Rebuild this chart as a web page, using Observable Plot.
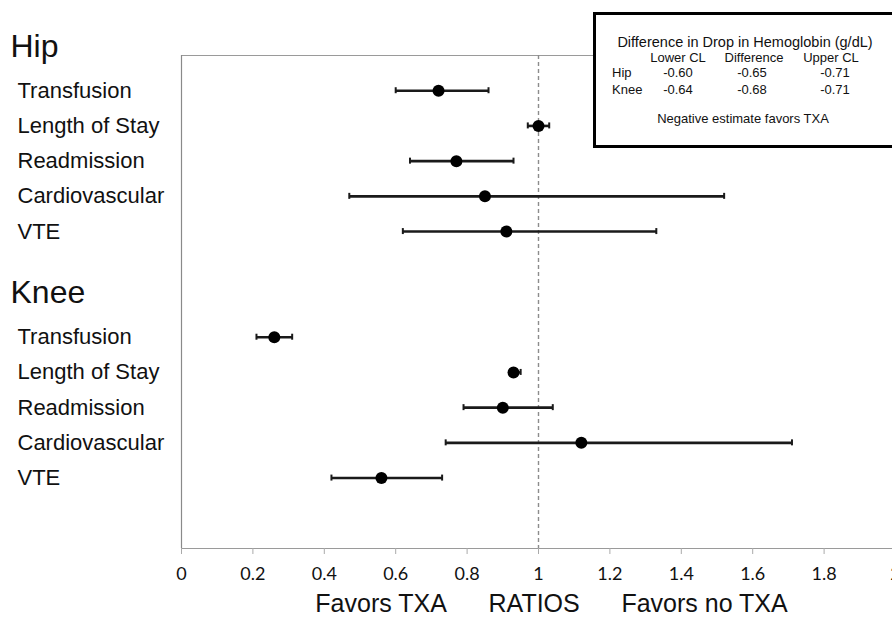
<!DOCTYPE html>
<html>
<head>
<meta charset="utf-8">
<script src="https://cdn.jsdelivr.net/npm/d3@7"></script>
<script src="https://cdn.jsdelivr.net/npm/@observablehq/plot@0.6"></script>
<style>
  html, body { margin: 0; padding: 0; background: #fff; overflow: hidden; }
  #wrap { position: relative; width: 892px; height: 617px; overflow: hidden; background: #fff; }
  #wrap svg { max-width: none !important; }
  #inset { position: absolute; left: 593px; top: 12px; width: 304px; height: 136px; box-sizing: border-box;
           border: 3px solid #000; background: #fff; font-family: "Liberation Sans", Arial, sans-serif; color: #111; }
  .it { position: absolute; white-space: nowrap; transform: translate(-50%, -50%); line-height: 1; }
  .il { position: absolute; white-space: nowrap; transform: translate(0, -50%); line-height: 1; }
</style>
</head>
<body>
<div id="wrap"></div>
<script>
// ---- data ----
const groups = ["Hip", "Knee"];
const outcomes = ["Transfusion", "Length of Stay", "Readmission", "Cardiovascular", "VTE"];
const hipEstimate = [0.72, 1.00, 0.77, 0.85, 0.91];
const hipLower    = [0.60, 0.97, 0.64, 0.47, 0.62];
const hipUpper    = [0.86, 1.03, 0.93, 1.52, 1.33];
const kneeEstimate = [0.26, 0.93, 0.90, 1.12, 0.56];
const kneeLower    = [0.21, 0.92, 0.79, 0.74, 0.42];
const kneeUpper    = [0.31, 0.95, 1.04, 1.71, 0.73];
const xTicks = [0, 0.2, 0.4, 0.6, 0.8, 1, 1.2, 1.4, 1.6, 1.8, 2];
const axisTitle = ["Favors TXA", "RATIOS", "Favors no TXA"];
const refLine = [1];

const insetTitle = "Difference in Drop in Hemoglobin (g/dL)";
const insetColumns = ["Lower CL", "Difference", "Upper CL"];
const insetRows = ["Hip", "Knee"];
const insetLower = [-0.60, -0.64];
const insetDiff  = [-0.65, -0.68];
const insetUpper = [-0.71, -0.71];
const insetNote = "Negative estimate favors TXA";

// ---- build table ----
const rowOf = (g, i) => g * 7 + i + 1;
const rows = [];
[[hipEstimate, hipLower, hipUpper], [kneeEstimate, kneeLower, kneeUpper]].forEach(([est, lo, hi], g) => {
  outcomes.forEach((name, i) => rows.push({group: groups[g], name, est: est[i], lo: lo[i], hi: hi[i], row: rowOf(g, i)}));
});
const headers = groups.map((name, g) => ({name, row: rowOf(g, 0) - 1.25}));

const sans = "Liberation Sans, Arial, Helvetica, sans-serif";
const sp = "\u00a0".repeat(6);

const chart = Plot.plot({
  width: 920,
  height: 617,
  marginLeft: 181,
  marginRight: 25,
  marginTop: 55,
  marginBottom: 69,
  x: {domain: [0, 2], axis: null},
  y: {domain: [0, 14], reverse: true, axis: null},
  style: {background: "transparent", overflow: "visible", maxWidth: "none"},
  marks: [
    Plot.ruleY([0, 14], {stroke: "#9a9a9a", strokeWidth: 1.2}),
    Plot.ruleX([0], {stroke: "#8a8a8a", strokeWidth: 1.2}),
    Plot.ruleX(refLine, {stroke: "#8c8c8c", strokeWidth: 1.4, strokeDasharray: "4,3"}),
    Plot.axisX({ticks: xTicks, tickFormat: d => String(+d.toFixed(1)), tickSize: 6, tickPadding: 13,
      stroke: "#aaa", fill: "#111", fontSize: 18, fontFamily: "Lato, Open Sans, sans-serif", label: null}),
    Plot.text([axisTitle.join(sp)], {frameAnchor: "bottom", dy: 63, dx: 13, fontSize: 25, fontFamily: sans, fill: "#111"}),
    Plot.link(rows, {x1: "lo", x2: "hi", y1: "row", y2: "row", stroke: "#1a1a1a", strokeWidth: 2.6}),
    Plot.ruleX(rows, {x: "lo", y1: "row", y2: "row", insetTop: -3, insetBottom: -3, stroke: "#1a1a1a", strokeWidth: 2}),
    Plot.ruleX(rows, {x: "hi", y1: "row", y2: "row", insetTop: -3, insetBottom: -3, stroke: "#1a1a1a", strokeWidth: 2}),
    Plot.dot(rows, {x: "est", y: "row", r: 6, fill: "#000", stroke: "none"}),
    Plot.text(rows, {y: "row", text: "name", frameAnchor: "left", dx: -164, textAnchor: "start", fontSize: 22, fontFamily: sans, fill: "#111"}),
    Plot.text(headers, {y: "row", text: "name", frameAnchor: "left", dx: -171, textAnchor: "start", fontSize: 32, fontFamily: sans, fill: "#111"})
  ]
});
document.getElementById("wrap").appendChild(chart);

// ---- inset table ----
const inset = document.createElement("div");
inset.id = "inset";
document.getElementById("wrap").appendChild(inset);
const ox = 596, oy = 15;
function put(text, x, y, size, cls) {
  const s = document.createElement("span");
  s.className = cls || "it";
  s.textContent = text;
  s.style.left = (x - ox) + "px";
  s.style.top = (y - oy) + "px";
  s.style.fontSize = size + "px";
  inset.appendChild(s);
}
const colX = [678, 754, 831];
put(insetTitle, 745, 42, 14.5);
insetColumns.forEach((c, i) => put(c, colX[i], 57, 13));
insetRows.forEach((r, j) => {
  const y = 72 + j * 16.5;
  put(r, 612, y, 13, "il");
  put(insetLower[j].toFixed(2), colX[0], y, 13);
  put(insetDiff[j].toFixed(2), colX[1] - 2, y, 13);
  put(insetUpper[j].toFixed(2), colX[2] + 4, y, 13);
});
put(insetNote, 743, 118, 13);
</script>
</body>
</html>
